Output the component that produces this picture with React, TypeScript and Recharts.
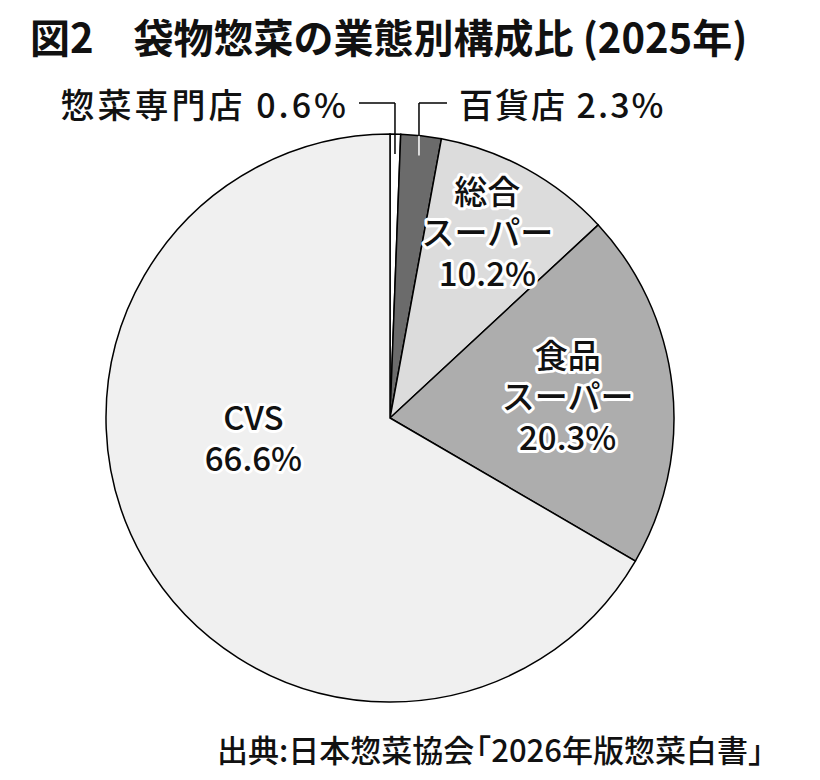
import React from 'react';
import { PieChart, Pie, Cell } from 'recharts';

const categories = ['惣菜専門店', '百貨店', '総合スーパー', '食品スーパー', 'CVS'];
const shares = [0.6, 2.3, 10.2, 20.3, 66.6];
const labelLines = [['惣菜専門店 0.6%'], ['百貨店 2.3%'], ['総合', 'スーパー', '10.2%'], ['食品', 'スーパー', '20.3%'], ['CVS', '66.6%']];
const fills = ['#ffffff', '#6b6b6b', '#dcdcdc', '#adadad', '#f0f0f0'];

const data = categories.map((name, i) => ({ name, value: shares[i], lines: labelLines[i] }));

const FONT = '"Noto Sans CJK JP", "Noto Sans", sans-serif';
const RAD = Math.PI / 180;

// inside labels: [radius fraction, angle shift from slice middle]
const inside: Record<string, [number, number]> = {
  '総合スーパー': [0.735, 1],
  '食品スーパー': [0.63, 0.5],
  CVS: [0.486, -21.5],
};

const renderLabel = (props: any) => {
  const { cx, cy, midAngle, outerRadius, payload, index } = props;
  const name = payload?.name ?? categories[index];
  const lines: string[] = payload?.lines ?? labelLines[index];

  if (inside[name]) {
    const [f, shift] = inside[name];
    const a = (midAngle + shift) * RAD;
    const x = cx + outerRadius * f * Math.cos(a);
    const y = cy - outerRadius * f * Math.sin(a);
    const gap = 41;
    const start = y - ((lines.length - 1) * gap) / 2 + 12;
    return (
      <g key={name}>
        {lines.map((l, i) => (
          <text
            key={i}
            x={x}
            y={start + i * gap}
            textAnchor="middle"
            fontFamily={FONT}
            fontSize={33}
            fontWeight={500}
            fill="#111"
            stroke="#fff"
            strokeWidth={6}
            strokeLinejoin="round"
            paintOrder="stroke"
          >
            {l}
          </text>
        ))}
      </g>
    );
  }

  // small slices at the top: leader lines
  const a = midAngle * RAD;
  const innerY = cy - outerRadius * 0.93 * Math.sin(a);
  const x = cx + outerRadius * 0.93 * Math.cos(a);
  const edgeY = cy - outerRadius * Math.sin(a);
  const topY = 95;
  const left = index === 0;
  const hx = left ? x - 36 : x + 28;
  return (
    <g key={name}>
      <line x1={x} y1={innerY} x2={x} y2={edgeY} stroke={left ? '#000' : '#fff'} strokeWidth={1.5} />
      <line x1={x} y1={edgeY} x2={x} y2={topY} stroke="#000" strokeWidth={1.5} />
      <line x1={x} y1={topY} x2={hx} y2={topY} stroke="#000" strokeWidth={1.5} />
      <text
        x={left ? hx - 10 : hx + 12}
        y={topY + 15}
        textAnchor={left ? 'end' : 'start'}
        fontFamily={FONT}
        fontSize={34}
        fontWeight={500}
        letterSpacing={left ? 3 : 2}
        fill="#111"
      >
        {lines[0]}
      </text>
    </g>
  );
};

export default function App() {
  return (
    <div style={{ position: 'relative', width: 820, height: 780, background: '#fff' }}>
      <PieChart width={820} height={780}>
        <Pie
          data={data}
          dataKey="value"
          nameKey="name"
          cx={377}
          cy={405}
          outerRadius={284}
          startAngle={90}
          endAngle={-270}
          stroke="#000"
          strokeWidth={1.5}
          label={renderLabel}
          labelLine={false}
          isAnimationActive={false}
        >
          {data.map((d, i) => (
            <Cell key={d.name} fill={fills[i]} />
          ))}
        </Pie>
      </PieChart>
      <svg width={820} height={780} style={{ position: 'absolute', left: 0, top: 0, pointerEvents: 'none' }}>
        <text x={22} y={45} fontFamily={FONT} fontSize={40} fontWeight={700} fill="#111">
          図2　袋物惣菜の業態別構成比 (2025年)
        </text>
        <text x={209} y={754} fontFamily={FONT} fontSize={31} fontWeight={500} fill="#111">
          出典:日本惣菜協会
          <tspan dx={-14}>「2026年版惣菜白書」</tspan>
        </text>
      </svg>
    </div>
  );
}
